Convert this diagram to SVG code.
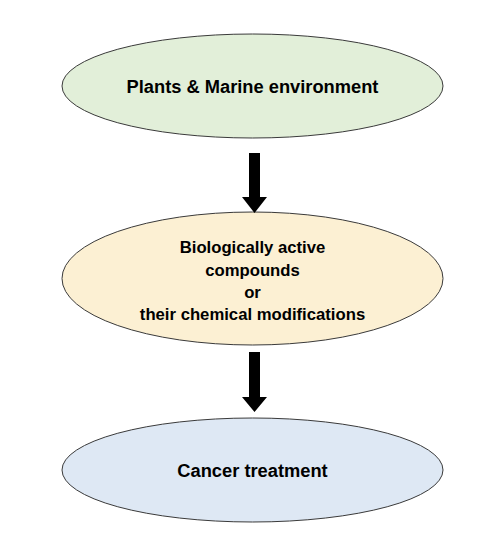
<svg xmlns="http://www.w3.org/2000/svg" width="500" height="550" viewBox="0 0 500 550">
<style>
.node ellipse{stroke:#3a3a3a;stroke-width:1}
.lbl{font-family:"Liberation Sans",Arial,sans-serif;font-weight:bold;font-size:18.3px;fill:#000;text-anchor:middle}
.sm{font-size:16.7px}
.arrow{fill:#000}
</style>
<rect width="500" height="550" fill="#fff"/>
<g id="node-plants" class="node">
<ellipse cx="252.5" cy="86" rx="190.5" ry="52" fill="#e2efd9"/>
<text class="lbl" x="252.5" y="93">Plants &amp; Marine environment</text>
</g>
<g id="node-compounds" class="node">
<ellipse cx="252.5" cy="278.5" rx="190.5" ry="66.5" fill="#fcf0d3"/>
<text class="lbl sm" x="252.5" y="253">Biologically active</text>
<text class="lbl sm" x="252.5" y="276">compounds</text>
<text class="lbl sm" x="252.5" y="298">or</text>
<text class="lbl sm" x="252.5" y="320">their chemical modifications</text>
</g>
<g id="node-cancer" class="node">
<ellipse cx="252.5" cy="470" rx="190.5" ry="52" fill="#dee8f4"/>
<text class="lbl" x="252.5" y="477">Cancer treatment</text>
</g>
<g id="connectors">
<polygon class="arrow" points="249,153 260,153 260,197 267,197 254.5,213 242,197 249,197"/>
<polygon class="arrow" points="249,352 260,352 260,397 267,397 254.5,412 242,397 249,397"/>
</g>
</svg>
